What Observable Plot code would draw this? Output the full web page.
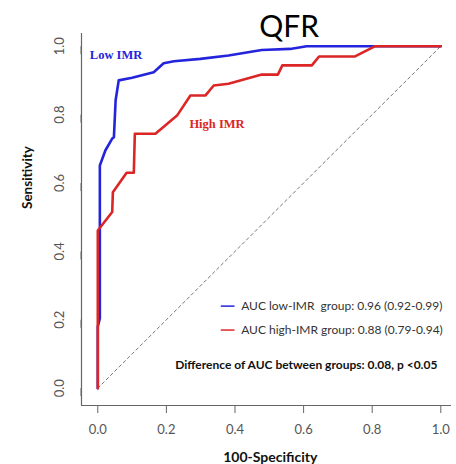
<!DOCTYPE html>
<html>
<head>
<meta charset="utf-8">
<script src="https://cdn.jsdelivr.net/npm/d3@7"></script>
<script src="https://cdn.jsdelivr.net/npm/@observablehq/plot@0.6"></script>
<style>
  html, body { margin: 0; padding: 0; background: #fff; }
</style>
</head>
<body>
<div id="chart"></div>
<script>
// ROC curve data (100-Specificity = false positive rate, Sensitivity)
const lowFpr = [0, 0, 0.006, 0.006, 0.022, 0.042, 0.047, 0.052, 0.061, 0.100, 0.163, 0.192, 0.222, 0.299, 0.381, 0.478, 0.561, 0.609, 1.0];
const lowTpr = [0, 0.18, 0.205, 0.651, 0.695, 0.730, 0.734, 0.842, 0.900, 0.908, 0.924, 0.950, 0.956, 0.963, 0.973, 0.989, 0.992, 1.0, 1.0];
const highFpr = [0, 0, 0.042, 0.044, 0.084, 0.105, 0.108, 0.168, 0.231, 0.270, 0.314, 0.338, 0.381, 0.478, 0.525, 0.538, 0.624, 0.645, 0.750, 0.809, 1.0];
const highTpr = [0, 0.461, 0.515, 0.573, 0.630, 0.630, 0.744, 0.744, 0.797, 0.856, 0.856, 0.885, 0.890, 0.917, 0.917, 0.944, 0.944, 0.970, 0.970, 1.0, 1.0];
const refLine = [0, 1];
const xTicks = [0, 0.2, 0.4, 0.6, 0.8, 1.0];
const yTicks = [0, 0.2, 0.4, 0.6, 0.8, 1.0];
const legendLabels = ["AUC low-IMR  group: 0.96 (0.92-0.99)", "AUC high-IMR group: 0.88 (0.79-0.94)"];
const curveLabels = ["Low IMR", "High IMR"];
const diffLabel = "Difference of AUC between groups: 0.08, p <0.05";
const titleText = "QFR";
const xTitle = "100-Specificity";
const yTitle = "Sensitivity";

const blue = "#2424dc";
const red = "#dc2626";

const low = lowFpr.map((x, i) => ({x, y: lowTpr[i]}));
const high = highFpr.map((x, i) => ({x, y: highTpr[i]}));
const ref = refLine.map(v => ({x: v, y: v}));

const xDom = [-0.0475, 1.0312];
const yDom = [-0.0506, 1.0371];

const plot = Plot.plot({
  width: 456,
  height: 464,
  marginLeft: 81,
  marginRight: 5,
  marginTop: 33,
  marginBottom: 59,
  style: {fontFamily: "Lato, sans-serif", fontSize: "13px", background: "#fff", overflow: "visible"},
  x: {domain: xDom},
  y: {domain: yDom},
  marks: [
    Plot.ruleX([xDom[0]], {stroke: "#666", strokeWidth: 1.2}),
    Plot.ruleY([yDom[0]], {stroke: "#666", strokeWidth: 1.2}),
    Plot.axisX({ticks: xTicks, tickSize: 8, tickPadding: 11, tickFormat: d3.format(".1f"), stroke: "#666", fill: "#555", fontSize: 13, label: null}),
    Plot.axisY({ticks: yTicks, tickSize: 8, tickPadding: 14, tickFormat: d3.format(".1f"), rotate: -90, textAnchor: "middle", stroke: "#666", fill: "#555", fontSize: 13, label: null}),
    Plot.line(ref, {x: "x", y: "y", stroke: "#777", strokeWidth: 1, strokeDasharray: "3,3"}),
    Plot.line(low, {x: "x", y: "y", stroke: blue, strokeWidth: 2.6}),
    Plot.line(high, {x: "x", y: "y", stroke: red, strokeWidth: 2.6}),
    // curve labels
    Plot.text([curveLabels[0]], {x: -0.0233, y: 0.973, text: d => d, textAnchor: "start", fill: blue, fontFamily: "Liberation Serif, serif", fontWeight: "bold", fontSize: 12.5}),
    Plot.text([curveLabels[1]], {x: 0.267, y: 0.772, text: d => d, textAnchor: "start", fill: red, fontFamily: "Liberation Serif, serif", fontWeight: "bold", fontSize: 12.5}),
    // legend
    Plot.ruleY([0.240], {x1: 0.360, x2: 0.400, stroke: blue, strokeWidth: 1.5}),
    Plot.ruleY([0.170], {x1: 0.360, x2: 0.400, stroke: red, strokeWidth: 1.5}),
    Plot.text([legendLabels[0]], {x: 0.418, y: 0.240, text: d => d, textAnchor: "start", fill: "#333", fontSize: 12}),
    Plot.text([legendLabels[1]], {x: 0.418, y: 0.170, text: d => d, textAnchor: "start", fill: "#333", fontSize: 12}),
    Plot.text([diffLabel], {x: 0.990, y: 0.067, text: d => d, textAnchor: "end", fill: "#111", fontWeight: "bold", fontSize: 12}),
    // titles
    Plot.text([titleText], {frameAnchor: "top", x: 0.558, dy: -6, text: d => d, fill: "#000", fontSize: 30, lineAnchor: "middle"}),
    Plot.text([xTitle], {frameAnchor: "bottom", x: 0.503, dy: 52, text: d => d, fill: "#111", fontWeight: "bold", fontSize: 14, lineAnchor: "middle"}),
    Plot.text([yTitle], {frameAnchor: "left", y: 0.524, dx: -54, rotate: -90, text: d => d, fill: "#111", fontWeight: "bold", fontSize: 13.5, lineAnchor: "middle"})
  ]
});
document.getElementById("chart").appendChild(plot);
</script>
</body>
</html>
